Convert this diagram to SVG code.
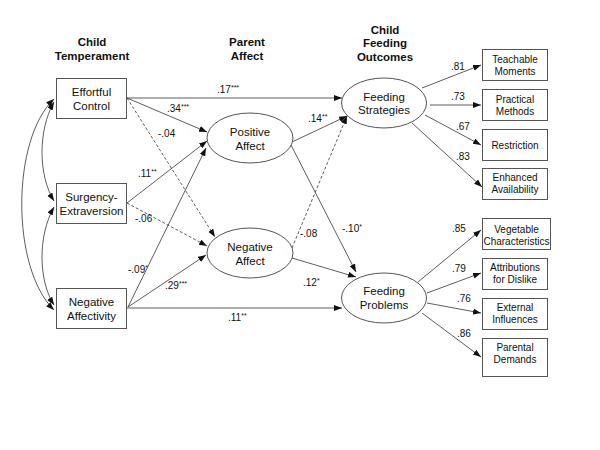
<svg xmlns="http://www.w3.org/2000/svg" width="600" height="450" viewBox="0 0 600 450">
<defs>
<marker id="ah" markerUnits="userSpaceOnUse" markerWidth="9" markerHeight="7" refX="8" refY="3" orient="auto-start-reverse">
<path d="M0,0 L8,3 L0,6 z" fill="#111"/>
</marker>
<style>
text{font-family:"Liberation Sans",Arial,sans-serif;fill:#111}
.hd{font-size:11.5px;font-weight:bold;text-anchor:middle}
.nt{font-size:11.5px;text-anchor:middle}
.rt{font-size:10px;text-anchor:middle}
.lb{font-size:10px}
.st{font-size:7px}
.box{fill:#fff;stroke:#555;stroke-width:1}
.ell{fill:#fff;stroke:#555;stroke-width:1}
.e{fill:none;stroke:#333;stroke-width:0.8;marker-end:url(#ah)}
.d{stroke-dasharray:3,2}
.b{marker-start:url(#ah)}
</style>
</defs>
<rect width="600" height="450" fill="#fff"/>

<g id="headers">
<text class="hd" x="92" y="46">Child</text>
<text class="hd" x="92" y="59.5">Temperament</text>
<text class="hd" x="247" y="46">Parent</text>
<text class="hd" x="247" y="59.5">Affect</text>
<text class="hd" x="385" y="33.5">Child</text>
<text class="hd" x="385" y="47">Feeding</text>
<text class="hd" x="385" y="60.5">Outcomes</text>
</g>

<g id="connectors">
<path class="e b" d="M54,102 C38,130 38,175 54,201"/>
<path class="e b" d="M54,207 C38,235 38,280 54,305"/>
<path class="e b" d="M54,99 C11,140 11,268 54,310"/>
<path class="e" d="M126,98 L342,98"/>
<path class="e" d="M127,98 L207,132"/>
<path class="e d" d="M127,98 L215,237"/>
<path class="e" d="M127,203 L207,141"/>
<path class="e d" d="M127,203 L207,246"/>
<path class="e" d="M128,307 L206,148"/>
<path class="e" d="M128,307 L206,255"/>
<path class="e" d="M126,308 L342,308"/>
<path class="e" d="M292,142 L347,116"/>
<path class="e" d="M291,145 L356,272"/>
<path class="e d" d="M292,248 L347,116"/>
<path class="e" d="M292,258 L356,277"/>
<path class="e" d="M422,88 L481,65"/>
<path class="e" d="M430,105 L481,105"/>
<path class="e" d="M425,115 L481,145"/>
<path class="e" d="M412,123 L482,187"/>
<path class="e" d="M418,282 L481,230"/>
<path class="e" d="M427,293 L481,273"/>
<path class="e" d="M427,303 L481,313"/>
<path class="e" d="M422,313 L481,357"/>
</g>

<g id="labels">
<text class="lb" x="217" y="92.6">.17<tspan class="st" dy="-3">***</tspan></text>
<text class="lb" x="167" y="112">.34<tspan class="st" dy="-3">***</tspan></text>
<text class="lb" x="158" y="137">-.04</text>
<text class="lb" x="138" y="177">.11<tspan class="st" dy="-3">**</tspan></text>
<text class="lb" x="135" y="222">-.06</text>
<text class="lb" x="128" y="273">-.09<tspan class="st" dy="-3">*</tspan></text>
<text class="lb" x="165" y="289">.29<tspan class="st" dy="-3">***</tspan></text>
<text class="lb" x="228" y="320.5">.11<tspan class="st" dy="-3">**</tspan></text>
<text class="lb" x="308" y="122">.14<tspan class="st" dy="-3">**</tspan></text>
<text class="lb" x="342" y="232">-.10<tspan class="st" dy="-3">*</tspan></text>
<text class="lb" x="300" y="237">-.08</text>
<text class="lb" x="303" y="285.5">.12<tspan class="st" dy="-3">*</tspan></text>
<text class="lb" x="451" y="69.5">.81</text>
<text class="lb" x="451" y="99.5">.73</text>
<text class="lb" x="456" y="129.5">.67</text>
<text class="lb" x="456" y="159.5">.83</text>
<text class="lb" x="452" y="232">.85</text>
<text class="lb" x="452" y="272">.79</text>
<text class="lb" x="457" y="302">.76</text>
<text class="lb" x="457" y="337">.86</text>
</g>

<g id="effortful-control">
<rect class="box" x="56.5" y="78.5" width="70" height="40"/>
<text class="nt" x="91.5" y="95.8">Effortful</text>
<text class="nt" x="91.5" y="110">Control</text>
</g>
<g id="surgency-extraversion">
<rect class="box" x="56.5" y="183.5" width="70" height="40"/>
<text class="nt" x="91.5" y="200.8">Surgency-</text>
<text class="nt" x="91.5" y="214.8">Extraversion</text>
</g>
<g id="negative-affectivity">
<rect class="box" x="56.5" y="288.5" width="70" height="40"/>
<text class="nt" x="91.5" y="305.8">Negative</text>
<text class="nt" x="91.5" y="319.8">Affectivity</text>
</g>

<g id="positive-affect">
<ellipse class="ell" cx="250" cy="138" rx="43" ry="25"/>
<text class="nt" x="250" y="136.4">Positive</text>
<text class="nt" x="250" y="149.8">Affect</text>
</g>
<g id="negative-affect">
<ellipse class="ell" cx="250" cy="253" rx="43" ry="25"/>
<text class="nt" x="250" y="250.8">Negative</text>
<text class="nt" x="250" y="264.8">Affect</text>
</g>
<g id="feeding-strategies">
<ellipse class="ell" cx="384" cy="103" rx="42.5" ry="25"/>
<text class="nt" x="384" y="100.8">Feeding</text>
<text class="nt" x="384" y="114">Strategies</text>
</g>
<g id="feeding-problems">
<ellipse class="ell" cx="384" cy="298" rx="42.5" ry="25"/>
<text class="nt" x="384" y="295">Feeding</text>
<text class="nt" x="384" y="309">Problems</text>
</g>

<g id="teachable-moments">
<rect class="box" x="482.5" y="49.5" width="65" height="31"/>
<text class="rt" x="515" y="63">Teachable</text>
<text class="rt" x="515" y="75.3">Moments</text>
</g>
<g id="practical-methods">
<rect class="box" x="482.5" y="89.5" width="65" height="31"/>
<text class="rt" x="515" y="103">Practical</text>
<text class="rt" x="515" y="114.6">Methods</text>
</g>
<g id="restriction">
<rect class="box" x="482.5" y="129.5" width="65" height="31"/>
<text class="rt" x="515" y="148.6">Restriction</text>
</g>
<g id="enhanced-availability">
<rect class="box" x="482.5" y="168.5" width="65" height="31"/>
<text class="rt" x="515" y="181">Enhanced</text>
<text class="rt" x="515" y="193">Availability</text>
</g>
<g id="vegetable-characteristics">
<rect class="box" x="482.5" y="218.5" width="68" height="31"/>
<text class="rt" x="516.5" y="233">Vegetable</text>
<text class="rt" x="516.5" y="244.5">Characteristics</text>
</g>
<g id="attributions-for-dislike">
<rect class="box" x="482.5" y="258.5" width="65" height="31"/>
<text class="rt" x="515" y="271.3">Attributions</text>
<text class="rt" x="515" y="283">for Dislike</text>
</g>
<g id="external-influences">
<rect class="box" x="482.5" y="298.5" width="65" height="31"/>
<text class="rt" x="515" y="311.3">External</text>
<text class="rt" x="515" y="323">Influences</text>
</g>
<g id="parental-demands">
<rect class="box" x="482.5" y="338.5" width="65" height="38"/>
<text class="rt" x="515" y="350.5">Parental</text>
<text class="rt" x="515" y="363">Demands</text>
</g>
</svg>
